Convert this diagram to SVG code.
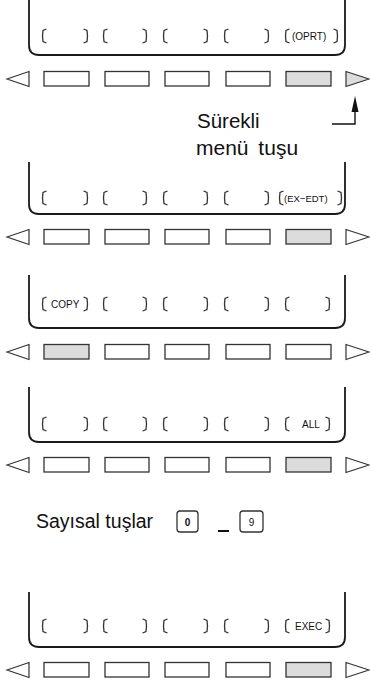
<svg xmlns="http://www.w3.org/2000/svg" width="370" height="682" viewBox="0 0 370 682">
<style>
.frame{fill:none;stroke:#1a1a1a;stroke-width:1.8}
.br{fill:none;stroke:#333;stroke-width:1.3}
.key{fill:#fff;stroke:#333;stroke-width:1.3}
.on{fill:#dcdcdc;stroke:#333;stroke-width:1.3}
.tri{fill:#fff;stroke:#333;stroke-width:1.2}
.lbl{font-family:"Liberation Sans",Arial,sans-serif;font-size:10px;fill:#111}
.big{font-family:"Liberation Sans",Arial,sans-serif;font-size:20.5px;fill:#111}
.num{font-family:"Liberation Sans",Arial,sans-serif;font-size:10px;font-weight:bold;fill:#111}
</style>
<defs>
<path id="lb" d="M4.5,-7 L1,-5.5 L0.5,0 L1,5.5 L4.5,7"/>
<path id="rb" d="M-4.5,-7 L-1,-5.5 L-0.5,0 L-1,5.5 L-4.5,7"/>
<g id="row">
<polygon class="tri" points="7,8 29,0.5 29,15.5"/>
<rect class="key" x="44" y="0.5" width="45" height="14.5"/>
<rect class="key" x="105" y="0.5" width="44" height="14.5"/>
<rect class="key" x="165" y="0.5" width="44" height="14.5"/>
<rect class="key" x="226" y="0.5" width="44" height="14.5"/>
</g>
<g id="br4">
<use href="#lb" x="42" class="br"/><use href="#rb" x="88" class="br"/>
<use href="#lb" x="103" class="br"/><use href="#rb" x="147" class="br"/>
<use href="#lb" x="163" class="br"/><use href="#rb" x="208" class="br"/>
<use href="#lb" x="224" class="br"/><use href="#rb" x="269" class="br"/>
</g>
</defs>

<g id="panel1">
<path class="frame" d="M29,0 V45 Q29,55 39,55 H335 Q345,55 345,45 V0"/>
<g transform="translate(0,36)">
<use href="#br4"/>
<use href="#lb" x="285" class="br"/><use href="#rb" x="338" class="br"/>
<text class="lbl" x="292" y="3.6">(OPRT)</text>
</g>
<g transform="translate(0,71)">
<use href="#row"/>
<rect class="on" x="286" y="0.5" width="45" height="14.5"/>
<polygon class="on" points="369,8 346,0.5 346,15.5" style="stroke-width:1.2"/>
</g>
</g>

<g id="note">
<text class="big" x="197" y="128">Sürekli</text>
<text class="big" x="196" y="155" style="font-size:21px;word-spacing:4px">menü tuşu</text>
</g>

<g id="panel2">
<path class="frame" d="M29,162 V204 Q29,214 39,214 H335 Q345,214 345,204 V162"/>
<g transform="translate(0,198)">
<use href="#br4"/>
<use href="#lb" x="279" class="br"/><use href="#rb" x="342" class="br"/>
<text class="lbl" x="284" y="3.6" style="font-size:9.5px">(EX−EDT)</text>
</g>
<g transform="translate(0,229)">
<use href="#row"/>
<rect class="on" x="286" y="0.5" width="45" height="14.5"/>
<polygon class="tri" points="369,8 346,0.5 346,15.5"/>
</g>
</g>

<g id="panel3">
<path class="frame" d="M29,275 V318 Q29,328 39,328 H335 Q345,328 345,318 V275"/>
<g transform="translate(0,304)">
<use href="#br4"/>
<use href="#lb" x="285" class="br"/><use href="#rb" x="330" class="br"/>
<text class="lbl" x="51" y="3.6">COPY</text>
</g>
<g transform="translate(0,344)">
<polygon class="tri" points="7,8 29,0.5 29,15.5"/>
<rect class="on" x="44" y="0.5" width="45" height="14.5"/>
<rect class="key" x="105" y="0.5" width="44" height="14.5"/>
<rect class="key" x="165" y="0.5" width="44" height="14.5"/>
<rect class="key" x="226" y="0.5" width="44" height="14.5"/>
<rect class="key" x="286" y="0.5" width="45" height="14.5"/>
<polygon class="tri" points="369,8 346,0.5 346,15.5"/>
</g>
</g>

<g id="panel4">
<path class="frame" d="M29,387 V432 Q29,442 39,442 H335 Q345,442 345,432 V387"/>
<g transform="translate(0,424)">
<use href="#br4"/>
<use href="#lb" x="285" class="br"/><use href="#rb" x="330" class="br"/>
<text class="lbl" x="302" y="3.6">ALL</text>
</g>
<g transform="translate(0,457)">
<use href="#row"/>
<rect class="on" x="286" y="0.5" width="45" height="14.5"/>
<polygon class="tri" points="369,8 346,0.5 346,15.5"/>
</g>
</g>

<g id="numkeys">
<text class="big" x="36" y="528" style="font-size:19.5px">Sayısal tuşlar</text>
<rect class="key" x="177" y="511" width="21" height="21" rx="3"/>
<text class="num" x="187.5" y="525.5" text-anchor="middle">0</text>
<line x1="218" y1="531" x2="229" y2="531" stroke="#111" stroke-width="2"/>
<rect class="key" x="240" y="511" width="23" height="21" rx="3"/>
<text class="num" x="251.5" y="525.5" text-anchor="middle" style="font-weight:normal">9</text>
</g>

<g id="panel5">
<path class="frame" d="M29,592 V637 Q29,647 39,647 H335 Q345,647 345,637 V592"/>
<g transform="translate(0,626)">
<use href="#br4"/>
<use href="#lb" x="285" class="br"/><use href="#rb" x="330" class="br"/>
<text class="lbl" x="295" y="3.6">EXEC</text>
</g>
<g transform="translate(0,662)">
<use href="#row"/>
<rect class="on" x="286" y="0.5" width="45" height="14.5"/>
<polygon class="tri" points="369,8 346,0.5 346,15.5"/>
</g>
</g>

<g id="connectors">
<polyline points="332,124 355,124 355,110" fill="none" stroke="#111" stroke-width="1.4"/>
<polygon points="355,96 351.5,112 358.5,112" fill="#111"/>
</g>
</svg>
